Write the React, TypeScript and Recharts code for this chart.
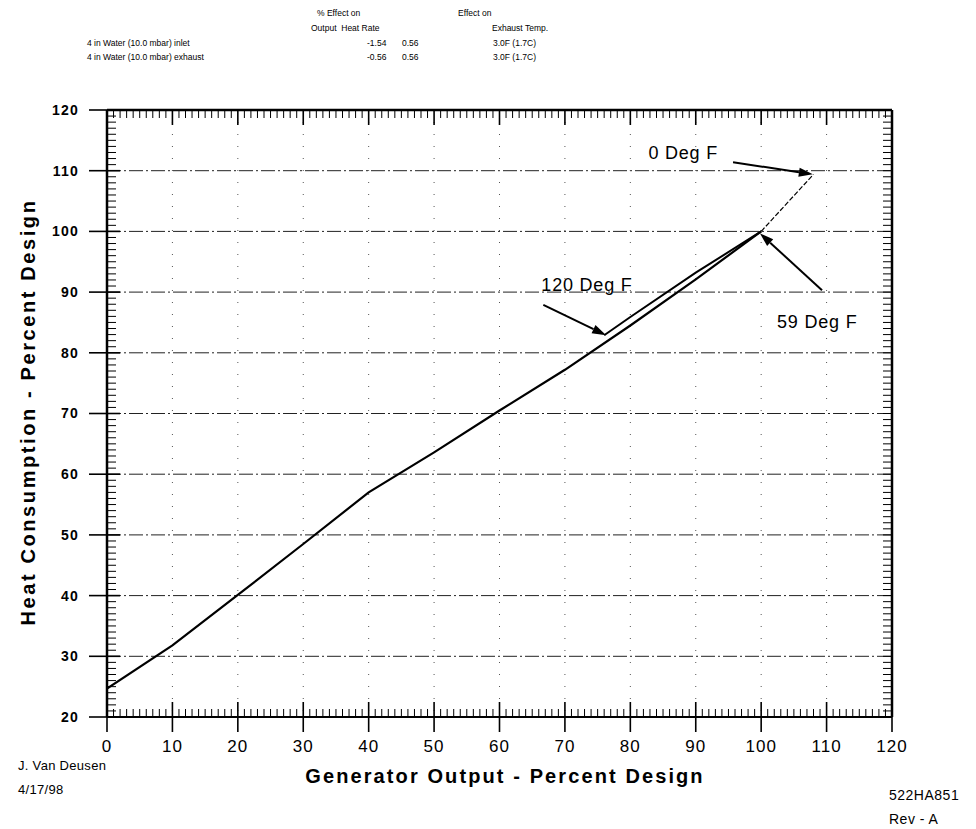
import React from "react";
import {
  LineChart,
  Line,
  XAxis,
  YAxis,
  CartesianGrid,
  ReferenceLine,
} from "recharts";

// generator output (% design) and heat consumption (% design)
const output59F = [0, 10, 20, 30, 40, 50, 60, 70, 80, 90, 100];
const heat59F = [24.7, 31.8, 40.1, 48.5, 57, 63.6, 70.5, 77.2, 84.5, 92.1, 100];

const output120F = [76, 80, 90, 100];
const heat120F = [82.9, 85.9, 93.2, 100];

const output0F = [100, 108];
const heat0F = [100, 109.4];

const xTicks = [0, 10, 20, 30, 40, 50, 60, 70, 80, 90, 100, 110, 120];
const yTicks = [20, 30, 40, 50, 60, 70, 80, 90, 100, 110, 120];
const xMinor = Array.from({ length: 121 }, (_, i) => i);
const yMinor = Array.from({ length: 101 }, (_, i) => i + 20);

// header table
const headerRows = [
  { name: "4 in Water (10.0 mbar) inlet", output: "-1.54", heatRate: "0.56", exhaust: "3.0F (1.7C)" },
  { name: "4 in Water (10.0 mbar) exhaust", output: "-0.56", heatRate: "0.56", exhaust: "3.0F (1.7C)" },
];

// annotation arrows: [from, tip] in data coords
const arrows = [
  { label: "0 Deg F", from: [95.7, 111.4], to: [107.9, 109.4] },
  { label: "120 Deg F", from: [66.7, 87.9], to: [76.3, 82.9] },
  { label: "59 Deg F", from: [109.3, 90.3], to: [99.8, 99.7] },
];

const FONT = '"Liberation Sans", Arial, Helvetica, sans-serif';

const toPoints = (xs: number[], ys: number[]) => xs.map((x, i) => ({ x, y: ys[i] }));

const labelPlacement = [
  { anchor: "end", dx: -15, dy: -3 },
  { anchor: "start", dx: -2, dy: -14 },
  { anchor: "start", dx: -45, dy: 38 },
];

const makeArrow = (text: string, anchor: string, dx: number, dy: number) => (props: any) => {
  const { x1, y1, x2, y2 } = props;
  const ang = Math.atan2(y2 - y1, x2 - x1);
  const len = 14;
  const half = 4.5;
  const bx = x2 - len * Math.cos(ang);
  const by = y2 - len * Math.sin(ang);
  const px = -Math.sin(ang) * half;
  const py = Math.cos(ang) * half;
  return (
    <g>
      <line x1={x1} y1={y1} x2={bx} y2={by} stroke="#000" strokeWidth={2} />
      <polygon
        points={`${x2},${y2} ${bx + px},${by + py} ${bx - px},${by - py}`}
        fill="#000"
      />
      <text
        x={x1 + dx}
        y={y1 + dy}
        textAnchor={anchor as any}
        fontSize={18}
        letterSpacing={0.8}
        fontFamily={FONT}
        fill="#000"
      >
        {text}
      </text>
    </g>
  );
};

// vertical grid: dotted line at majors, small inward ticks top and bottom
const verticalLine = (p: any) => {
  const v = p.index ?? Math.round(((p.x1 - p.x) / p.width) * 120);
  const major = v % 10 === 0;
  const t = major ? 15 : 8;
  const top = Math.min(p.y1, p.y2);
  const bottom = Math.max(p.y1, p.y2);
  return (
    <g key={p.key}>
      {major && v > 0 && v < 120 && (
        <line x1={p.x1} x2={p.x1} y1={top} y2={bottom} stroke="#555" strokeWidth={1} strokeDasharray="1 11" />
      )}
      <line x1={p.x1} x2={p.x1} y1={top} y2={top + t} stroke="#000" strokeWidth={major ? 1.6 : 1} />
      <line x1={p.x1} x2={p.x1} y1={bottom - t} y2={bottom} stroke="#000" strokeWidth={major ? 1.6 : 1} />
    </g>
  );
};

// horizontal grid: dash-dot line at majors, small inward ticks left and right
const horizontalLine = (p: any) => {
  // horizontalValues are ascending, index 0 = 20
  const v = p.index ?? Math.round(((p.y + p.height - p.y1) / p.height) * 100);
  const major = v % 10 === 0;
  const left = Math.min(p.x1, p.x2);
  const right = Math.max(p.x1, p.x2);
  return (
    <g key={p.key}>
      {major && v > 0 && v < 100 && (
        <line x1={left} x2={right} y1={p.y1} y2={p.y1} stroke="#222" strokeWidth={1} strokeDasharray="14 3 2 3" />
      )}
      <line x1={left} x2={left + (major ? 13 : 9)} y1={p.y1} y2={p.y1} stroke="#000" strokeWidth={major ? 1.6 : 1} />
      <line x1={right - 9} x2={right} y1={p.y1} y2={p.y1} stroke="#000" strokeWidth={1} />
    </g>
  );
};

const small = { position: "absolute" as const, fontSize: 8.5, whiteSpace: "nowrap" as const, lineHeight: "10px" };

export default function App() {
  return (
    <div
      style={{
        position: "absolute",
        left: 0,
        top: 0,
        width: 976,
        height: 829,
        background: "#fff",
        fontFamily: FONT,
        color: "#000",
        overflow: "hidden",
      }}
    >
      {/* header table */}
      <span style={{ ...small, left: 317, top: 8 }}>% Effect on</span>
      <span style={{ ...small, left: 458, top: 8 }}>Effect on</span>
      <span style={{ ...small, left: 311, top: 23 }}>Output&nbsp; Heat Rate</span>
      <span style={{ ...small, left: 492, top: 23 }}>Exhaust Temp.</span>
      {headerRows.map((r, i) => (
        <React.Fragment key={i}>
          <span style={{ ...small, left: 87, top: 38 + i * 14 }}>{r.name}</span>
          <span style={{ ...small, left: 367, top: 38 + i * 14 }}>{r.output}</span>
          <span style={{ ...small, left: 402, top: 38 + i * 14 }}>{r.heatRate}</span>
          <span style={{ ...small, left: 493, top: 38 + i * 14 }}>{r.exhaust}</span>
        </React.Fragment>
      ))}

      <div style={{ position: "absolute", left: 0, top: 0 }}>
        <LineChart
          width={976}
          height={829}
          margin={{ top: 110, right: 84, bottom: 82, left: 47 }}
        >
          <CartesianGrid
            verticalValues={xMinor}
            horizontalValues={yMinor}
            vertical={verticalLine}
            horizontal={horizontalLine}
          />

          <XAxis
            dataKey="x"
            type="number"
            domain={[0, 120]}
            ticks={xTicks}
            interval={0}
            allowDataOverflow
            height={30}
            tickSize={15}
            tickMargin={8}
            axisLine={{ stroke: "#000", strokeWidth: 2 }}
            tickLine={{ stroke: "#000", strokeWidth: 1.6 }}
            tick={{ fontSize: 17, fill: "#000", fontFamily: FONT, letterSpacing: 1 }}
          />
          <YAxis
            type="number"
            domain={[20, 120]}
            ticks={yTicks}
            interval={0}
            allowDataOverflow
            width={60}
            tickSize={18}
            tickMargin={10}
            axisLine={{ stroke: "#000", strokeWidth: 2.5 }}
            tickLine={{ stroke: "#000", strokeWidth: 1.6 }}
            tick={{ fontSize: 14, fontWeight: 700, fill: "#000", fontFamily: FONT, letterSpacing: 1.2 }}
          />

          {/* plot frame top and right */}
          <ReferenceLine y={120} stroke="#000" strokeWidth={2.5} ifOverflow="visible" />
          <ReferenceLine x={120} stroke="#000" strokeWidth={2.5} ifOverflow="visible" />

          <Line
            data={toPoints(output59F, heat59F)}
            dataKey="y"
            type="linear"
            stroke="#000"
            strokeWidth={2.2}
            dot={false}
            isAnimationActive={false}
          />
          <Line
            data={toPoints(output120F, heat120F)}
            dataKey="y"
            type="linear"
            stroke="#000"
            strokeWidth={2}
            dot={false}
            isAnimationActive={false}
          />
          <Line
            data={toPoints(output0F, heat0F)}
            dataKey="y"
            type="linear"
            stroke="#000"
            strokeWidth={1.2}
            strokeDasharray="5 2"
            dot={false}
            isAnimationActive={false}
          />

          {arrows.map((a, i) => (
            <ReferenceLine
              key={a.label}
              segment={[
                { x: a.from[0], y: a.from[1] },
                { x: a.to[0], y: a.to[1] },
              ]}
              ifOverflow="visible"
              shape={makeArrow(a.label, labelPlacement[i].anchor, labelPlacement[i].dx, labelPlacement[i].dy)}
            />
          ))}
        </LineChart>
      </div>

      {/* axis titles */}
      <div
        style={{
          position: "absolute",
          left: 28,
          top: 412,
          transform: "translate(-50%, -50%) rotate(-90deg)",
          fontSize: 20,
          fontWeight: 700,
          letterSpacing: 2.6,
          whiteSpace: "nowrap",
        }}
      >
        Heat Consumption - Percent Design
      </div>
      <div
        style={{
          position: "absolute",
          left: 505,
          top: 776,
          transform: "translate(-50%, -50%)",
          fontSize: 20,
          fontWeight: 700,
          letterSpacing: 2.1,
          whiteSpace: "nowrap",
        }}
      >
        Generator Output - Percent Design
      </div>

      {/* footer notes */}
      <div style={{ position: "absolute", left: 18, top: 758, fontSize: 13, letterSpacing: 0.3 }}>J. Van Deusen</div>
      <div style={{ position: "absolute", left: 18, top: 782, fontSize: 13, letterSpacing: 0.3 }}>4/17/98</div>
      <div style={{ position: "absolute", left: 889, top: 787, fontSize: 14, letterSpacing: 0.5 }}>522HA851</div>
      <div style={{ position: "absolute", left: 889, top: 811, fontSize: 14, letterSpacing: 0.5 }}>Rev - A</div>
    </div>
  );
}
